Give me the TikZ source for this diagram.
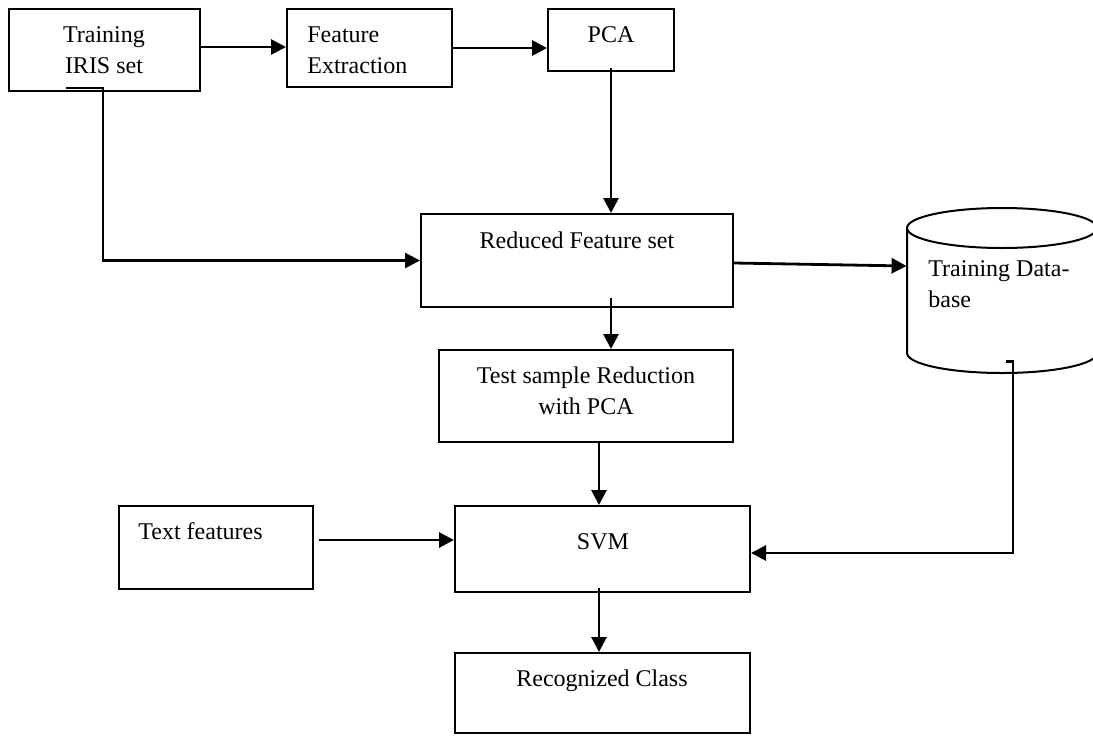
\documentclass[tikz,border=0pt]{standalone}
\usepackage{fontspec}
\setmainfont{Liberation Serif}
\usetikzlibrary{arrows.meta,calc}
\begin{document}
\begin{tikzpicture}[x=0.5pt,y=-0.5pt,
  box/.style={draw, line width=1pt, inner sep=0pt},
  lbl/.style={font=\fontsize{12}{15.75}\selectfont, inner sep=0pt},
  conn/.style={line width=1.4pt},
  arr/.style={conn, -{Triangle[length=7.5pt,width=7.5pt]}}]
\useasboundingbox (0,0) rectangle (1093,735);

% boxes
\node[box, minimum width=95.5pt, minimum height=41pt] (train) at (104.5,50) {};
\node[box, minimum width=82.5pt, minimum height=39pt] (fe) at (369.5,48) {};
\node[box, minimum width=63pt, minimum height=31pt] (pca) at (611,40) {};
\node[box, minimum width=156pt, minimum height=46.5pt] (red) at (577,260.5) {};
\node[box, minimum width=147pt, minimum height=46pt] (test) at (586,396) {};
\node[box, minimum width=97pt, minimum height=41.5pt] (txt) at (216,547.5) {};
\node[box, minimum width=147.5pt, minimum height=43pt] (svm) at (602.5,549) {};
\node[box, minimum width=147.5pt, minimum height=40pt] (rec) at (602.5,693) {};

% database cylinder
\node[inner sep=0pt, minimum width=95pt, minimum height=82.5pt] (db) at (1002,290.5) {};
\draw[box] (907,228) -- (907,353) arc[start angle=180, end angle=360, x radius=47.5pt, y radius=10pt] -- (1097,228);
\draw[box] (1002,228) ellipse[x radius=47.5pt, y radius=10pt];

% labels
\node[lbl, anchor=base] (trainT) at (104,42) {\begin{tabular}[t]{@{}c@{}}Training\\IRIS set\end{tabular}};
\node[lbl, anchor=base west] (feT) at (307,42) {\begin{tabular}[t]{@{}l@{}}Feature\\Extraction\end{tabular}};
\node[lbl, anchor=base] (pcaT) at (611,42) {PCA};
\node[lbl, anchor=base] (redT) at (577,248) {Reduced Feature set};
\node[lbl, anchor=base] (testT) at (586,383) {\begin{tabular}[t]{@{}c@{}}Test sample Reduction\\with PCA\end{tabular}};
\node[lbl, anchor=base west] (dbT) at (928,276) {\begin{tabular}[t]{@{}l@{}}Training Data-\\base\end{tabular}};
\node[lbl, anchor=base west] (txtT) at (138,539) {Text features};
\node[lbl, anchor=base] (svmT) at (603,549) {SVM};
\node[lbl, anchor=base] (recT) at (602,686) {Recognized Class};

% connectors
\draw[arr] ([yshift=1.5pt]train.east) -- ([yshift=1.5pt]train.east -| fe.west);
\draw[arr] (fe.east) -- (fe.east -| pca.west);
\draw[arr] ([yshift=2pt]pca.south) -- (pca.south |- red.north);
\draw[arr] ([xshift=-19.25pt,yshift=2pt]train.south) -- ([xshift=-0.75pt,yshift=2pt]train.south) |- (red.west);
\draw[arr] ([yshift=-1.25pt]red.east) -- ([yshift=12.25pt]db.west);
\draw[arr] ([xshift=17pt,yshift=5pt]red.south) -- ([xshift=17pt]red.south |- test.north);
\draw[arr] ([xshift=6.5pt]test.south) -- ([xshift=6.5pt]test.south |- svm.north);
\draw[arr] ([xshift=2.5pt,yshift=3.75pt]txt.east) -- ([yshift=3.75pt]txt.east -| svm.west);
\draw[arr] ([xshift=2pt,yshift=6pt]db.south) -- ([xshift=5.5pt,yshift=6pt]db.south) |- ([yshift=-2pt]svm.east);
\draw[arr] ([xshift=-1.75pt,yshift=2.5pt]svm.south) -- ([xshift=-1.75pt]svm.south |- rec.north);
\end{tikzpicture}
\end{document}
